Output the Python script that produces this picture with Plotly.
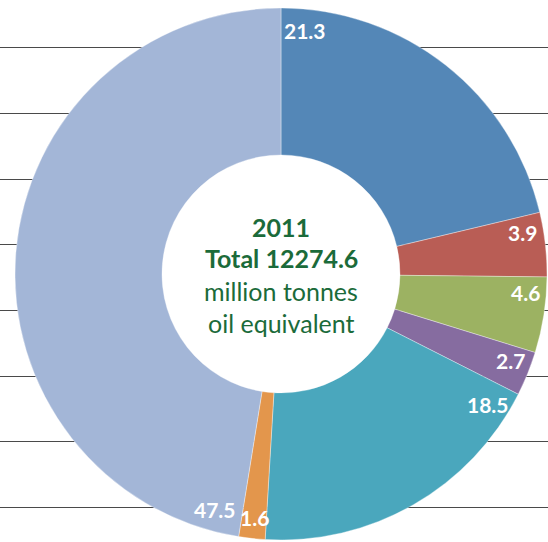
import plotly.graph_objects as go
import math

# Data
shares = [21.3, 3.9, 4.6, 2.7, 18.5, 1.6, 47.5]
slice_labels = ["21.3", "3.9", "4.6", "2.7", "18.5", "1.6", "47.5"]
colors = ["#5487B7", "#B95D55", "#9CB262", "#866CA0", "#4AA7BD", "#E3964C", "#A3B6D7"]
year = "2011"
total = "12274.6"
unit_lines = ["million tonnes", "oil equivalent"]

W, H = 548, 542
cx_px, cy_px, R_px = 281, 274, 266
r_hole_px = 119
hole_ratio = r_hole_px / R_px
green = "#1B6B3A"
FONT = "Lato"


def domain(r):
    return dict(x=[(cx_px - r) / W, (cx_px + r) / W],
                y=[(H - cy_px - r) / H, (H - cy_px + r) / H])


fig = go.Figure()

# invisible cartesian axes to draw background horizontal rules
fig.add_trace(go.Scatter(x=[0], y=[0], mode="markers", marker=dict(opacity=0),
                         showlegend=False, hoverinfo="skip"))

# white disc filling the hole (hides rules behind the centre)
fig.add_trace(go.Pie(values=[1], labels=["centre"], sort=False, textinfo="none",
                     hoverinfo="skip", showlegend=False,
                     marker=dict(colors=["white"], line=dict(width=0)),
                     domain=domain(r_hole_px + 1)))

fig.add_trace(go.Pie(
    values=shares,
    labels=slice_labels,
    sort=False,
    direction="clockwise",
    rotation=0,
    hole=hole_ratio,
    marker=dict(colors=colors, line=dict(color="rgba(255,255,255,0.6)", width=0.6)),
    textinfo="none",
    hoverinfo="label",
    showlegend=False,
    domain=domain(R_px),
))

# value labels near outer edge, just after the start of each slice
total_share = sum(shares)
cum = 0.0
r_lab = 245
for v, t in zip(shares, slice_labels):
    width_deg = v / total_share * 360
    ang = cum + min(width_deg / 2, 3.3 + 0.03 * width_deg, 6.5)
    a = math.radians(ang)
    x_px = cx_px + r_lab * math.sin(a)
    y_px = cy_px - r_lab * math.cos(a)
    fig.add_annotation(x=x_px / W, y=1 - y_px / H, xref="paper", yref="paper",
                       text=f"<b>{t}</b>", showarrow=False,
                       font=dict(family=FONT, size=21, color="white"),
                       xanchor="center", yanchor="middle")
    cum += width_deg

# center text
center_lines = [(f"<b>{year}</b>", 227), (f"<b>Total {total}</b>", 258),
                (unit_lines[0], 291), (unit_lines[1], 323)]
for txt, ypx in center_lines:
    fig.add_annotation(x=cx_px / W, y=1 - ypx / H, xref="paper", yref="paper",
                       text=txt, showarrow=False,
                       font=dict(family=FONT, size=25, color=green),
                       xanchor="center", yanchor="middle")

# rule positions: gridlines at 47.7 + 65.7k px from top
step = 65.7
first = 47.7
n_rules = 8
last = first + step * (n_rules - 1)
y_lo = -(H - last) / step
y_hi = (n_rules - 1) + first / step

fig.update_layout(
    width=W, height=H,
    margin=dict(l=0, r=0, t=0, b=0),
    paper_bgcolor="white", plot_bgcolor="white",
    xaxis=dict(visible=True, showgrid=False, zeroline=False, showticklabels=False,
               range=[-1, 1], fixedrange=True, showline=False, ticks=""),
    yaxis=dict(showgrid=True, gridcolor="#4a4a4a", gridwidth=1.3, zeroline=False,
               showticklabels=False, range=[y_lo, y_hi], tick0=0, dtick=1,
               fixedrange=True, showline=False, ticks=""),
    showlegend=False,
)

fig.write_html("out.html")
